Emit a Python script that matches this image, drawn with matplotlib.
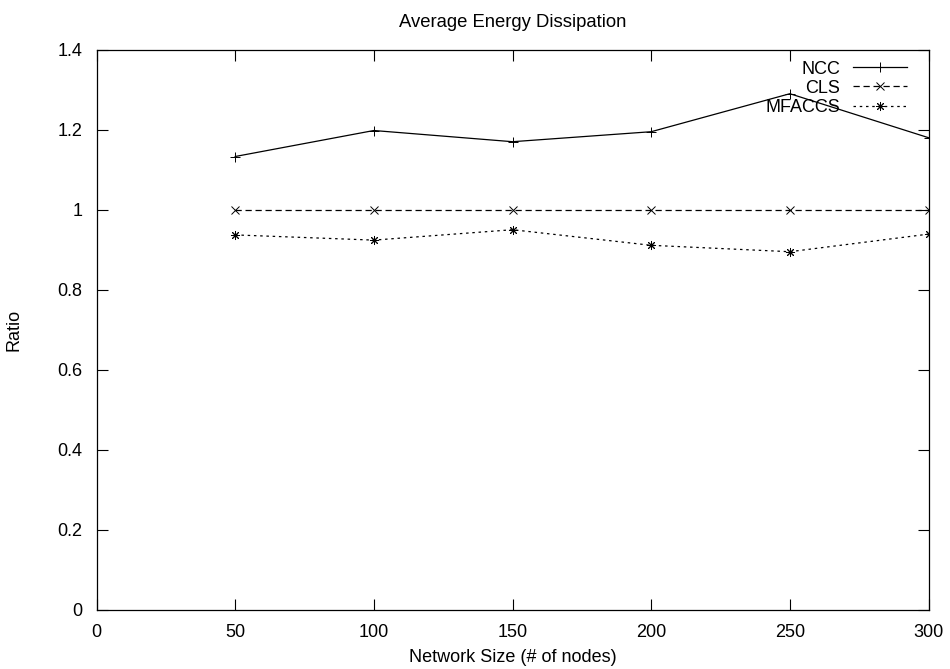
import matplotlib
matplotlib.use("Agg")
import matplotlib.pyplot as plt

# Data
NETWORK_SIZE = [50, 100, 150, 200, 250, 300]
NCC = [1.133, 1.198, 1.170, 1.195, 1.290, 1.180]
CLS = [1.0, 1.0, 1.0, 1.0, 1.0, 1.0]
MFACCS = [0.937, 0.924, 0.950, 0.911, 0.895, 0.939]

X_TICKS = [0, 50, 100, 150, 200, 250, 300]
Y_TICKS = [0, 0.2, 0.4, 0.6, 0.8, 1.0, 1.2, 1.4]
Y_TICK_LABELS = ["0", "0.2", "0.4", "0.6", "0.8", "1", "1.2", "1.4"]

plt.rcParams["font.family"] = ["Liberation Sans", "DejaVu Sans"]
plt.rcParams["font.size"] = 13

fig = plt.figure(figsize=(9.5, 6.69), dpi=100)
ax = fig.add_axes([0.1016, 0.0886, 0.8758, 0.8371])

ax.plot(NETWORK_SIZE, NCC, "-", color="black", linewidth=0.9,
        marker="+", markersize=7, markeredgewidth=0.7, label="NCC")
ax.plot(NETWORK_SIZE, CLS, color="black", linewidth=0.9, dashes=(5, 3),
        marker="x", markersize=6, markeredgewidth=0.7, label="CLS")
ax.plot(NETWORK_SIZE, MFACCS, color="black", linewidth=0.9, dashes=(2, 3),
        marker=(8, 2, 0), markersize=6.5, markeredgewidth=0.7, label="MFACCS")

ax.set_xlim(0, 300)
ax.set_ylim(0, 1.4)
ax.set_xticks(X_TICKS)
ax.set_yticks(Y_TICKS)
ax.set_yticklabels(Y_TICK_LABELS)
ax.tick_params(direction="in", length=8, width=0.8, top=True, right=True,
               pad=10, labelsize=13)
for spine in ax.spines.values():
    spine.set_linewidth(0.9)

ax.set_title("Average Energy Dissipation", fontsize=13.3, pad=16)
ax.set_xlabel("Network Size (# of nodes)", fontsize=13, labelpad=6)
ax.set_ylabel("Ratio", fontsize=13, labelpad=25)

# legend sits a little in from the right frame, gnuplot style
leg = ax.legend(loc="upper right", bbox_to_anchor=(0.987, 1.0),
                frameon=False, markerfirst=False,
                handlelength=3.0, handletextpad=0.7, labelspacing=0.12,
                borderaxespad=0.3, borderpad=0.3, fontsize=13)
for t in leg.get_texts():
    t.set_ha("right")

fig.savefig("out.png", dpi=100)
